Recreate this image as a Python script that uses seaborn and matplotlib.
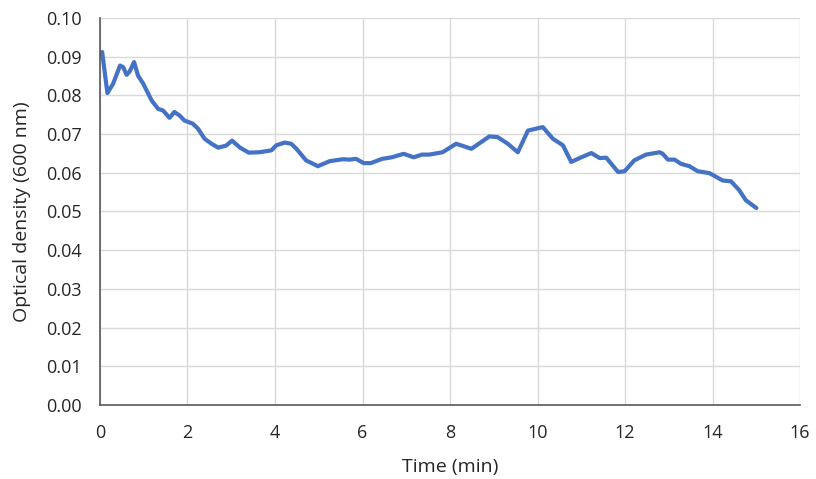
import matplotlib
matplotlib.use("Agg")
import matplotlib.pyplot as plt
import seaborn as sns
import pandas as pd

time_min = [0.0, 0.05, 0.17, 0.30, 0.46, 0.53, 0.61, 0.68, 0.78, 0.87, 0.99, 1.18, 1.33,
            1.44, 1.59, 1.70, 1.82, 1.93, 2.12, 2.24, 2.39, 2.55, 2.70, 2.88, 3.02,
            3.20, 3.40, 3.64, 3.92, 4.03, 4.22, 4.37, 4.49, 4.71, 4.98, 5.25, 5.55,
            5.70, 5.85, 6.03, 6.19, 6.45, 6.67, 6.94, 7.17, 7.36, 7.53, 7.83, 8.14,
            8.49, 8.90, 9.09, 9.32, 9.55, 9.78, 10.12, 10.35, 10.58, 10.77, 11.00,
            11.23, 11.42, 11.57, 11.84, 11.99, 12.21, 12.48, 12.79, 12.86, 12.98,
            13.13, 13.28, 13.47, 13.66, 13.93, 14.23, 14.42, 14.61, 14.76, 15.0]
optical_density = [0.0900, 0.0912, 0.0806, 0.0830, 0.0877, 0.0873, 0.0853, 0.0862, 0.0886,
                   0.0851, 0.0830, 0.0787, 0.0765, 0.0761, 0.0742, 0.0757, 0.0748,
                   0.0735, 0.0727, 0.0714, 0.0688, 0.0675, 0.0665, 0.0670, 0.0683,
                   0.0665, 0.0652, 0.0653, 0.0658, 0.0671, 0.0678, 0.0675, 0.0662,
                   0.0632, 0.0617, 0.0630, 0.0635, 0.0634, 0.0636, 0.0625, 0.0625,
                   0.0636, 0.0640, 0.0649, 0.0640, 0.0647, 0.0647, 0.0653, 0.0675,
                   0.0662, 0.0694, 0.0692, 0.0675, 0.0653, 0.0709, 0.0718, 0.0688,
                   0.0671, 0.0628, 0.0640, 0.0651, 0.0638, 0.0639, 0.0602, 0.0604,
                   0.0632, 0.0647, 0.0653, 0.0649, 0.0634, 0.0634, 0.0623, 0.0617,
                   0.0604, 0.0599, 0.0580, 0.0578, 0.0555, 0.0529, 0.0509]

x_ticks = [0, 2, 4, 6, 8, 10, 12, 14, 16]
y_ticks = [0.00, 0.01, 0.02, 0.03, 0.04, 0.05, 0.06, 0.07, 0.08, 0.09, 0.10]

sns.set_theme(style="white")
plt.rcParams['font.family'] = ['Open Sans', 'DejaVu Sans']

df = pd.DataFrame({"Time (min)": time_min, "OD": optical_density})

fig = plt.figure(figsize=(8.16, 4.79), dpi=100)
ax = fig.add_axes([0.1225, 0.1545, 0.858, 0.808])
sns.lineplot(data=df, x="Time (min)", y="OD", ax=ax, color="#4472C4", linewidth=3.0)

ax.set_xlim(0, 16)
ax.set_ylim(0, 0.10)
ax.set_xticks(x_ticks)
ax.set_yticks(y_ticks)
ax.set_xticklabels([str(t) for t in x_ticks])
ax.set_yticklabels([f"{v:.2f}" for v in y_ticks])
ax.grid(True, color="#D9D9D9", linewidth=1.0)
ax.set_axisbelow(True)
for s in ["top", "right"]:
    ax.spines[s].set_visible(False)
for s in ["left", "bottom"]:
    ax.spines[s].set_color("#595959")
    ax.spines[s].set_linewidth(1.2)
ax.tick_params(axis="x", length=0, labelsize=13, colors="#262626", pad=14)
ax.tick_params(axis="y", length=0, labelsize=13, colors="#262626", pad=13)
ax.set_xlabel("Time (min)", fontsize=14, color="#262626", labelpad=11)
ax.set_ylabel("Optical density (600 nm)", fontsize=14, color="#262626", labelpad=11)

fig.savefig("out.png", dpi=100)
